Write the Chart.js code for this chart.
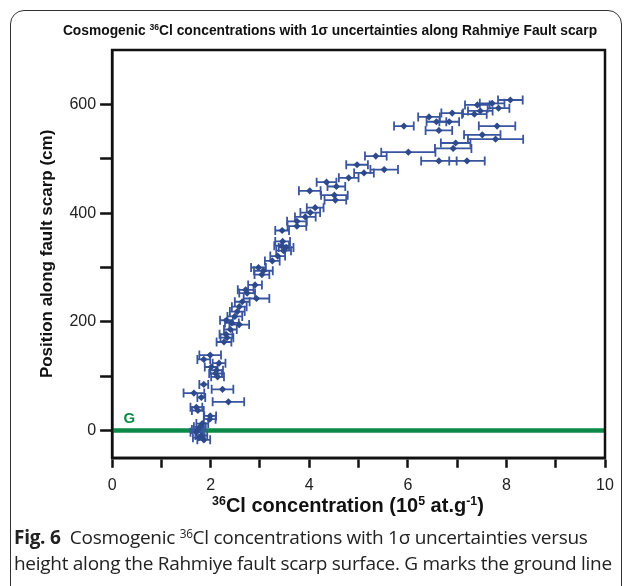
<!DOCTYPE html>
<html>
<head>
<meta charset="utf-8">
<script src="https://cdn.jsdelivr.net/npm/chart.js@4"></script>
<style>
    html, body { margin: 0; padding: 0; background: #fff; }
    body { width: 633px; height: 586px; position: relative; overflow: hidden; }
    .card { position: absolute; left: 10px; top: 10px; width: 612px; height: 590px; border: 1px solid #333; border-radius: 14px; box-sizing: border-box; }
    #chart-wrap { position: absolute; left: 0; top: 0; width: 633px; height: 503px; }
    .chart-title { position: absolute; left: 0; width: 660px; top: 23px; text-align: center; font: bold 13.8px "Liberation Sans", Arial, sans-serif; color: #111; }
    .x-title { position: absolute; left: 100px; width: 496px; top: 494px; text-align: center; font: bold 20px "Liberation Sans", Arial, sans-serif; color: #111; }
    sup { font-size: 0.62em; line-height: 0; vertical-align: 0.55em; }
    .caption { position: absolute; left: 14px; top: 524px; width: 612px; font: 19px "Open Sans", sans-serif; line-height: 26px; letter-spacing: -0.28px; color: #222; }
    .caption b { font-weight: 700; }
</style>
</head>
<body>
<div class="card"></div>
<div id="chart-wrap"><canvas id="scarpChart"></canvas></div>
<div class="chart-title">Cosmogenic <sup>36</sup>Cl concentrations with 1σ uncertainties along Rahmiye Fault scarp</div>
<div class="x-title"><sup>36</sup>Cl concentration (10<sup>5</sup> at.g<sup>-1</sup>)</div>
<div class="caption"><b>Fig. 6</b>&nbsp; Cosmogenic <sup>36</sup>Cl concentrations with 1σ uncertainties versus height along the Rahmiye fault scarp surface. G marks the ground line</div>
<script>
// 36Cl concentration (10^5 at/g), 1 sigma, and sample height (cm)
const concentrations = [
    8.08, 7.71, 7.41, 7.84, 7.47, 7.35, 6.90, 6.84, 7.81, 7.51,
    7.78, 6.97, 6.92, 7.20, 6.63, 5.92, 6.43, 6.58, 6.63, 6.01,
    5.35, 4.97, 5.52, 5.11, 4.80, 4.35, 4.55, 4.01, 4.51, 4.53,
    4.12, 4.02, 3.92, 3.75, 3.75, 3.45, 3.46, 3.44, 3.53, 3.48,
    3.36, 3.25, 3.07, 2.97, 3.04, 2.90, 2.71, 2.74, 2.93, 2.64,
    2.58, 2.54, 2.49, 2.32, 2.43, 2.58, 2.40, 2.31, 2.33, 2.27,
    1.99, 1.86, 2.17, 2.01, 2.12, 2.10, 2.14, 1.86, 2.24, 1.66,
    1.81, 2.36, 1.71, 1.74, 1.99, 1.98, 1.83, 1.78, 1.74, 1.71,
    1.81, 1.76, 1.86
];
const uncertainties = [
    0.25, 0.25, 0.25, 0.22, 0.25, 0.25, 0.22, 0.20, 0.37, 0.37,
    0.56, 0.30, 0.37, 0.36, 0.36, 0.20, 0.22, 0.20, 0.27, 0.55,
    0.22, 0.22, 0.28, 0.20, 0.20, 0.20, 0.18, 0.22, 0.27, 0.22,
    0.17, 0.20, 0.21, 0.20, 0.19, 0.14, 0.15, 0.15, 0.15, 0.15,
    0.15, 0.15, 0.19, 0.15, 0.15, 0.14, 0.16, 0.16, 0.26, 0.15,
    0.15, 0.15, 0.15, 0.13, 0.14, 0.20, 0.13, 0.13, 0.13, 0.15,
    0.22, 0.13, 0.13, 0.13, 0.13, 0.13, 0.13, 0.09, 0.22, 0.21,
    0.08, 0.32, 0.12, 0.12, 0.12, 0.12, 0.12, 0.12, 0.12, 0.12,
    0.12, 0.12, 0.13
];
const positions = [
    608, 602, 599, 593, 588, 582, 584, 568, 560, 544,
    536, 529, 519, 496, 496, 560, 577, 568, 552, 512,
    505, 489, 480, 474, 465, 457, 449, 441, 433, 424,
    410, 401, 393, 385, 376, 368, 348, 340, 337, 331,
    321, 312, 294, 300, 287, 268, 259, 253, 243, 237,
    228, 219, 210, 203, 198, 195, 186, 177, 171, 163,
    139, 131, 124, 117, 111, 105, 99, 85, 76, 69,
    61, 53, 43, 37, 27, 21, 13, 7, 2, -3,
    -9, -13, -17
];
const xTicks = [0, 1, 2, 3, 4, 5, 6, 7, 8, 9, 10];
const yTicks = [0, 100, 200, 300, 400, 500, 600];
const groundLevel = 0;
const groundLabel = 'G';
const groundLabelAt = { x: 0.35, y: 22 };

const pointColor = '#2d4a8c';
const barColor = '#3a55a0';
const groundColor = '#0a8a48';
const axisFont = { family: '"Liberation Sans", Arial, sans-serif', size: 16 };

const points = concentrations.map((c, i) => ({ x: c, y: positions[i] }));

// ground line + horizontal error bars, drawn through the scales
const errorBarPlugin = {
    id: 'errorBars',
    beforeDatasetsDraw(chart) {
        const { ctx, chartArea, scales: { x, y } } = chart;
        const gy = y.getPixelForValue(groundLevel);
        ctx.save();
        ctx.strokeStyle = groundColor;
        ctx.lineWidth = 4.5;
        ctx.beginPath();
        ctx.moveTo(chartArea.left, gy);
        ctx.lineTo(chartArea.right, gy);
        ctx.stroke();
        ctx.fillStyle = groundColor;
        ctx.font = 'bold 15px "Liberation Sans", Arial, sans-serif';
        ctx.textAlign = 'center';
        ctx.textBaseline = 'middle';
        ctx.fillText(groundLabel, x.getPixelForValue(groundLabelAt.x), y.getPixelForValue(groundLabelAt.y));

        ctx.strokeStyle = barColor;
        ctx.lineWidth = 1.8;
        const cap = 4.5;
        points.forEach((p, i) => {
            const py = y.getPixelForValue(p.y);
            const x1 = x.getPixelForValue(p.x - uncertainties[i]);
            const x2 = x.getPixelForValue(p.x + uncertainties[i]);
            ctx.beginPath();
            ctx.moveTo(x1, py); ctx.lineTo(x2, py);
            ctx.moveTo(x1, py - cap); ctx.lineTo(x1, py + cap);
            ctx.moveTo(x2, py - cap); ctx.lineTo(x2, py + cap);
            ctx.stroke();
        });
        ctx.restore();
    },
    afterDraw(chart) {
        const { ctx, chartArea } = chart;
        ctx.save();
        ctx.strokeStyle = '#111';
        ctx.lineWidth = 2.5;
        ctx.strokeRect(chartArea.left, chartArea.top, chartArea.right - chartArea.left, chartArea.bottom - chartArea.top);
        ctx.restore();
    }
};

new Chart(document.getElementById('scarpChart'), {
    type: 'scatter',
    data: {
        datasets: [{
            data: points,
            pointStyle: 'rectRot',
            pointRadius: 3.6,
            backgroundColor: pointColor,
            borderColor: pointColor,
            borderWidth: 0
        }]
    },
    options: {
        responsive: true,
        maintainAspectRatio: false,
        animation: false,
        layout: { padding: { left: 37, right: 28, top: 50, bottom: 0 } },
        plugins: { legend: { display: false }, tooltip: { enabled: false } },
        scales: {
            x: {
                min: 0,
                max: 10,
                afterBuildTicks: axis => { axis.ticks = xTicks.map(v => ({ value: v })); },
                ticks: {
                    autoSkip: false,
                    maxRotation: 0,
                    padding: 8,
                    color: '#222',
                    font: axisFont,
                    callback: v => (v % 2 === 0 ? v : '')
                },
                grid: { drawOnChartArea: false, tickLength: 10, tickWidth: 2.5, tickColor: '#111' },
                border: { color: '#111', width: 2.5 }
            },
            y: {
                min: -50,
                max: 700,
                afterBuildTicks: axis => { axis.ticks = yTicks.map(v => ({ value: v })); },
                ticks: {
                    autoSkip: false,
                    padding: 4,
                    color: '#222',
                    font: axisFont,
                    callback: v => (v % 200 === 0 ? v : '')
                },
                grid: { drawOnChartArea: false, tickLength: 12, tickWidth: 2.5, tickColor: '#111' },
                border: { color: '#111', width: 2.5 },
                title: {
                    display: true,
                    text: 'Position along fault scarp (cm)',
                    color: '#111',
                    font: { family: '"Liberation Sans", Arial, sans-serif', size: 17, weight: 'bold' },
                    padding: { top: 0, bottom: 8 }
                }
            }
        }
    },
    plugins: [errorBarPlugin]
});
</script>
</body>
</html>
